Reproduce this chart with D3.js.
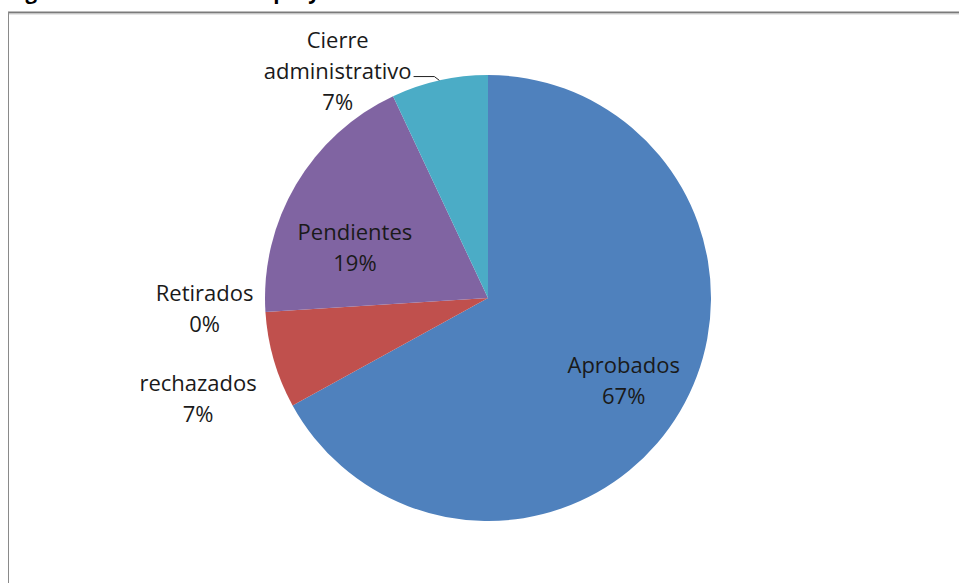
<!DOCTYPE html>
<html>
<head>
<meta charset="utf-8">
<script src="https://cdn.jsdelivr.net/npm/d3@7"></script>
<style>
  body { margin: 0; background: #fff; }
  svg { display: block; }
</style>
</head>
<body>
<div id="container"></div>
<script>
/* DATA */
const categories = ["Aprobados", "rechazados", "Retirados", "Pendientes", "Cierre administrativo"]
const values = [67, 7, 0, 19, 7]
const pctLabels = ["67%", "7%", "0%", "19%", "7%"]
const labelLines = [["Aprobados"], ["rechazados"], ["Retirados"], ["Pendientes"], ["Cierre", "administrativo"]]
const colors = ["#4F81BD", "#C0504D", "#9BBB59", "#8064A2", "#4BACC6"]
const title = "Figura 1. Resultado de los proyectos sometidos a evaluación durante el año 2010"

/* CONSTANTS */
const width = 959
const height = 583
const cx = 488, cy = 298, radius = 223
const lineH = 31

// where each label sits: radius from centre and a small nudge (Excel moves some)
const labelLayout = {
  "Aprobados": {r: 160, dx: -2, dy: 1.5},
  "rechazados": {r: 305, dx: 3, dy: 15},
  "Retirados": {r: 285, dx: 1, dy: -7},
  "Pendientes": {r: 143, dx: -10, dy: 22},
  "Cierre administrativo": {r: 272, dx: -91, dy: 38, leader: true}
}

const svg = d3.select("#container")
  .append("svg")
  .attr("width", width)
  .attr("height", height)
  .style("background-color", "white")

// title, cut off by the top edge like in the source image
svg.append("text")
  .attr("x", 8)
  .attr("y", -1.5)
  .attr("font-family", "Open Sans")
  .attr("font-weight", "bold")
  .attr("font-size", 20.5)
  .attr("fill", "#000")
  .text(title)

// chart frame (runs off the right and bottom)
svg.append("line")
  .attr("x1", 8).attr("x2", width).attr("y1", 12.5).attr("y2", 12.5)
  .attr("stroke", "#7a7a7a").attr("stroke-width", 2)
svg.append("line")
  .attr("x1", 9).attr("x2", width).attr("y1", 14).attr("y2", 14)
  .attr("stroke", "#d0d0d0").attr("stroke-width", 1)
svg.append("line")
  .attr("x1", 8.5).attr("x2", 8.5).attr("y1", 12).attr("y2", height)
  .attr("stroke", "#8a8a8a").attr("stroke-width", 1)

const data = categories.map((c, i) => ({name: c, value: values[i], pct: pctLabels[i], lines: labelLines[i], color: colors[i]}))

const pie = d3.pie()
  .sort(null)
  .value(d => d.value)

const arcs = pie(data)

const arc = d3.arc()
  .innerRadius(0)
  .outerRadius(radius)

const g = svg.append("g")
  .attr("transform", `translate(${cx},${cy})`)

g.selectAll(".slice")
  .data(arcs)
  .join("path")
  .attr("class", "slice")
  .attr("d", arc)
  .attr("fill", d => d.data.color)

/* LABELS */
const labels = g.selectAll(".lbl")
  .data(arcs)
  .join("text")
  .attr("class", "lbl")
  .attr("font-family", "Open Sans")
  .attr("font-size", 22)
  .attr("fill", "#1a1a1a")
  .attr("text-anchor", "middle")
  .each(function(d) {
    const lay = labelLayout[d.data.name]
    const c = d3.arc().innerRadius(lay.r).outerRadius(lay.r).centroid(d)
    const x = c[0] + lay.dx
    const y = c[1] + lay.dy
    const lines = d.data.lines.concat([d.data.pct])
    const first = y - (lines.length - 1) * lineH / 2 + 8
    const t = d3.select(this)
    lines.forEach((l, i) => {
      t.append("tspan").attr("x", x).attr("y", first + i * lineH).text(l)
    })
    d.labelX = x
    d.labelY = y
  })

// leader line for the moved label
arcs.filter(d => labelLayout[d.data.name].leader).forEach(d => {
  const node = labels.filter(e => e === d).selectAll("tspan").nodes()
  const widest = d3.max(node, n => n.getComputedTextLength())
  const end = d3.arc().innerRadius(radius).outerRadius(radius).centroid(d)
  const x0 = d.labelX + widest / 2 + 2
  const y0 = d.labelY + 6
  g.append("path")
    .attr("d", d3.line()([[x0, y0], [end[0] - 5, y0], end]))
    .attr("fill", "none")
    .attr("stroke", "#222")
    .attr("stroke-width", 1)
})
</script>
</body>
</html>
